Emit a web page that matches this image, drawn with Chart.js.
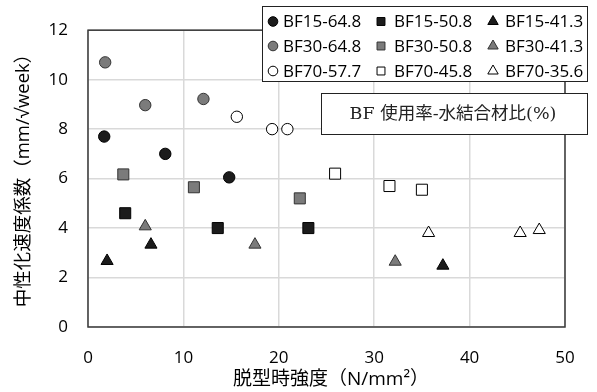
<!DOCTYPE html>
<html>
<head>
<meta charset="utf-8">
<script src="https://cdn.jsdelivr.net/npm/chart.js@4/dist/chart.umd.min.js"></script>
<style>
  html, body { margin: 0; padding: 0; background: #fff; }
  #wrap { width: 597px; height: 392px; }
</style>
</head>
<body>
<div id="wrap"><canvas id="c" width="597" height="392"></canvas></div>
<script>
// series labels, in legend order (row by row)
const seriesLabels = [
  'BF15-64.8', 'BF15-50.8', 'BF15-41.3',
  'BF30-64.8', 'BF30-50.8', 'BF30-41.3',
  'BF70-57.7', 'BF70-45.8', 'BF70-35.6'
];

// strength at demoulding (N/mm2) and carbonation rate, per series
const bf15_648_x = [1.7, 8.1, 14.8];
const bf15_648_y = [7.7, 7.0, 6.05];
const bf15_508_x = [3.9, 13.6, 23.1];
const bf15_508_y = [4.6, 4.0, 4.0];
const bf15_413_x = [2.0, 6.6, 37.2];
const bf15_413_y = [2.67, 3.33, 2.48];

const bf30_648_x = [1.8, 6.0, 12.1];
const bf30_648_y = [10.7, 8.97, 9.22];
const bf30_508_x = [3.7, 11.1, 22.2];
const bf30_508_y = [6.17, 5.65, 5.2];
const bf30_413_x = [6.0, 17.5, 32.2];
const bf30_413_y = [4.07, 3.33, 2.64];

const bf70_577_x = [15.6, 19.3, 20.9];
const bf70_577_y = [8.5, 8.0, 8.0];
const bf70_458_x = [25.9, 31.6, 35.0];
const bf70_458_y = [6.2, 5.7, 5.55];
const bf70_356_x = [35.7, 45.3, 47.3];
const bf70_356_y = [3.8, 3.8, 3.92];

const xTicks = [0, 10, 20, 30, 40, 50];
const yTicks = [0, 2, 4, 6, 8, 10, 12];

const xTitle = '脱型時強度（N/mm²）';
const yTitle = '中性化速度係数（mm/√week）';
const noteText = 'BF 使用率-水結合材比(%)';

const BLACK = '#1c1c1c';
const GRAY = '#7b7b7b';
const WHITE = '#ffffff';

function pts(xs, ys) {
  return xs.map((x, i) => ({ x: x, y: ys[i] }));
}

function series(label, xs, ys, shape, fill, edge, r) {
  return {
    label: label,
    data: pts(xs, ys),
    pointStyle: shape,
    pointRadius: r,
    pointHoverRadius: r,
    backgroundColor: fill,
    borderColor: edge,
    borderWidth: 1,
    showLine: false
  };
}

const datasets = [
  series(seriesLabels[0], bf15_648_x, bf15_648_y, 'circle', BLACK, '#000', 5.7),
  series(seriesLabels[1], bf15_508_x, bf15_508_y, 'rect', BLACK, '#000', 7.8),
  series(seriesLabels[2], bf15_413_x, bf15_413_y, 'triangle', BLACK, '#000', 7),
  series(seriesLabels[3], bf30_648_x, bf30_648_y, 'circle', GRAY, '#333', 5.7),
  series(seriesLabels[4], bf30_508_x, bf30_508_y, 'rect', GRAY, '#333', 7.8),
  series(seriesLabels[5], bf30_413_x, bf30_413_y, 'triangle', GRAY, '#333', 7),
  series(seriesLabels[6], bf70_577_x, bf70_577_y, 'circle', WHITE, '#000', 5.7),
  series(seriesLabels[7], bf70_458_x, bf70_458_y, 'rect', WHITE, '#000', 7.8),
  series(seriesLabels[8], bf70_356_x, bf70_356_y, 'triangle', WHITE, '#000', 7)
];

function marker(ctx, shape, x, y, r) {
  ctx.beginPath();
  if (shape === 'circle') {
    ctx.arc(x, y, r, 0, Math.PI * 2);
  } else if (shape === 'rect') {
    const s = r * Math.SQRT1_2;
    ctx.rect(x - s, y - s, 2 * s, 2 * s);
  } else {
    ctx.moveTo(x, y - r);
    ctx.lineTo(x + Math.sin(2 * Math.PI / 3) * r, y + r / 2);
    ctx.lineTo(x - Math.sin(2 * Math.PI / 3) * r, y + r / 2);
  }
  ctx.closePath();
  ctx.fill();
  ctx.stroke();
}

// frame, legend box, note box and axis titles
const overlay = {
  id: 'overlay',
  afterDatasetsDraw(chart) {
    const ctx = chart.ctx;
    const a = chart.chartArea;
    ctx.save();

    ctx.strokeStyle = '#3a3a3a';
    ctx.lineWidth = 1.5;
    ctx.strokeRect(a.left, a.top, a.right - a.left, a.bottom - a.top);

    // legend box
    ctx.fillStyle = '#fff';
    ctx.fillRect(262, 6, 326, 76);
    ctx.strokeStyle = '#222';
    ctx.lineWidth = 1;
    ctx.strokeRect(262.5, 6.5, 325, 75);

    const markX = [273, 381, 493];
    const textX = [283, 394, 505];
    const rowY = [21.5, 46, 71];
    const legendR = { circle: 4.8, rect: 5.6, triangle: 6 };
    ctx.font = '17px "Open Sans", sans-serif';
    ctx.textBaseline = 'middle';
    ctx.textAlign = 'left';
    chart.data.datasets.forEach((ds, i) => {
      const col = i % 3;
      const row = Math.floor(i / 3);
      ctx.fillStyle = ds.backgroundColor;
      ctx.strokeStyle = ds.borderColor;
      ctx.lineWidth = 1;
      marker(ctx, ds.pointStyle, markX[col], rowY[row], legendR[ds.pointStyle]);
      ctx.fillStyle = '#000';
      ctx.fillText(ds.label, textX[col], rowY[row] + 1);
    });

    // note box
    ctx.fillStyle = '#fff';
    ctx.fillRect(321, 93, 267, 42);
    ctx.strokeStyle = '#222';
    ctx.strokeRect(321.5, 93.5, 266, 41);
    ctx.fillStyle = '#222';
    ctx.textAlign = 'center';
    ctx.font = '17.5px "DejaVu Serif", "Noto Sans CJK JP", serif';
    ctx.fillText(noteText, 453, 114);

    // axis titles
    ctx.fillStyle = '#000';
    ctx.font = '19px "Open Sans", "Noto Sans CJK JP", sans-serif';
    ctx.fillText(xTitle, 331, 380);
    ctx.font = '18.5px "Open Sans", "Noto Sans CJK JP", sans-serif';
    ctx.translate(24, 176);
    ctx.rotate(-Math.PI / 2);
    ctx.fillText(yTitle, 0, 0);

    ctx.restore();
  }
};

new Chart(document.getElementById('c'), {
  type: 'scatter',
  data: { datasets: datasets },
  options: {
    responsive: false,
    animation: false,
    layout: { padding: { top: 18, right: 32, left: 0, bottom: 0 } },
    plugins: {
      legend: { display: false },
      tooltip: { enabled: false }
    },
    scales: {
      x: {
        type: 'linear',
        min: 0,
        max: 50,
        afterFit(s) { s.height = 65; },
        afterBuildTicks(s) { s.ticks = xTicks.map(v => ({ value: v })); },
        grid: { color: '#d9d9d9', lineWidth: 1.5, drawTicks: false },
        border: { display: false },
        ticks: { color: '#000', padding: 21, font: { family: 'Open Sans', size: 17 } }
      },
      y: {
        type: 'linear',
        min: 0,
        max: 12,
        afterFit(s) { s.width = 88; },
        afterBuildTicks(s) { s.ticks = yTicks.map(v => ({ value: v })); },
        grid: { color: '#d9d9d9', lineWidth: 1.5, drawTicks: false },
        border: { display: false },
        ticks: { color: '#000', padding: 20, font: { family: 'Open Sans', size: 17 } }
      }
    }
  },
  plugins: [overlay]
});
</script>
</body>
</html>
